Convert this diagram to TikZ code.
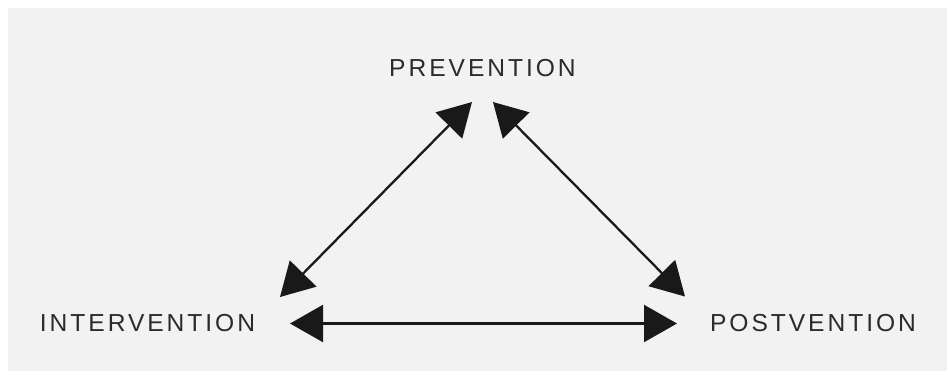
\documentclass[tikz,border=0pt]{standalone}
\usepackage{fontspec}
\setmainfont{Liberation Sans}[LetterSpace=12]
\usetikzlibrary{arrows.meta, positioning}
\definecolor{panelgray}{HTML}{F2F2F2}
\definecolor{stagegray}{HTML}{2B2B2B}

\begin{document}
\begin{tikzpicture}[
    stage/.style={text=stagegray, font=\fontsize{7pt}{8pt}\selectfont, inner sep=0pt},
    twoway/.style={{Triangle[length=0.33cm,width=0.37cm]}-{Triangle[length=0.33cm,width=0.37cm]},
                   line width=0.65pt, draw=black!90}
  ]
    \path[fill=white]     (0,0)       rectangle (9.49,3.74);
    \path[fill=panelgray] (0.08,0.03) rectangle (9.47,3.66);

    \node[stage] (prev)  at (4.825,3.055) {PREVENTION};
    \node[stage] (inter) at (1.475,0.505) {INTERVENTION};
    \node[stage] (post)  at (8.13 ,0.505) {POSTVENTION};

    \path (prev)  ++(-0.105,-0.335) node[coordinate] (prevL)  {}
          (prev)  ++( 0.105,-0.335) node[coordinate] (prevR)  {}
          (inter) ++( 1.325, 0.265) node[coordinate] (interU) {}
          (inter) ++( 1.425, 0    ) node[coordinate] (interR) {}
          (post)  ++(-1.28 , 0.27 ) node[coordinate] (postU)  {}
          (post)  ++(-1.36 , 0    ) node[coordinate] (postL)  {};

    \draw[twoway] (interU) -- (prevL);
    \draw[twoway] (prevR)  -- (postU);
    \draw[twoway] (interR) -- (postL);

\end{tikzpicture}
\end{document}
